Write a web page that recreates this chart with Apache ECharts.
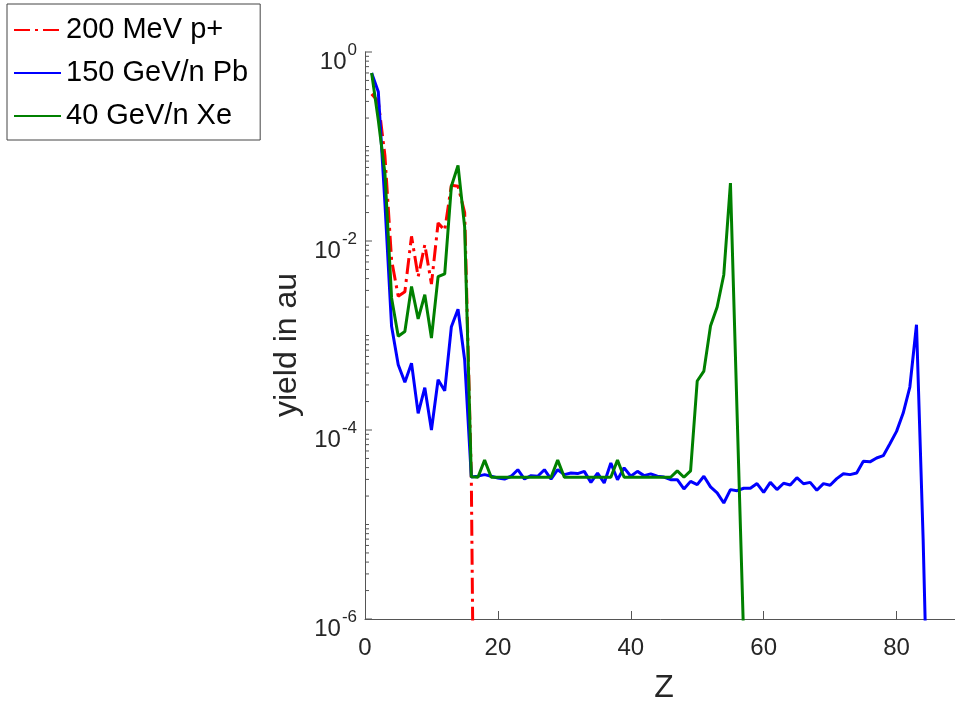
<!DOCTYPE html>
<html>
<head>
<meta charset="utf-8">
<script src="https://cdn.jsdelivr.net/npm/echarts@6/dist/echarts.min.js"></script>
<style>
html,body{margin:0;padding:0;background:#fff;}
#chart{width:955px;height:703px;}
</style>
</head>
<body>
<div id="chart"></div>
<script>
// ---- data ----
const seriesNames = ['200 MeV p+', '150 GeV/n Pb', '40 GeV/n Xe'];

const zProton = [1,2,3,4,5,6,7,8,9,10,11,12,13,14,15,16,17];
const yieldProton = [0.36,0.30,0.08,0.0063,0.0026,0.0029,0.0112,0.0042,0.0091,0.0035,
  0.0155,0.013,0.039,0.038,0.020,3.2e-5,1e-12];

const zLead = [1,2,3,4,5,6,7,8,9,10,11,12,13,14,15,16,17,18,19,20,
  21,22,23,24,25,26,27,28,29,30,31,32,33,34,35,36,37,38,39,40,
  41,42,43,44,45,46,47,48,49,50,51,52,53,54,55,56,57,58,59,60,
  61,62,63,64,65,66,67,68,69,70,71,72,73,74,75,76,77,78,79,80,
  81,82,83,84,85];
const yieldLead = [0.6,0.38,0.025,0.00125,0.00049,0.00032,0.00051,0.00015,0.00028,0.0001,
  0.00034,0.00026,0.00124,0.0019,0.00055,3.18e-5,3.25e-5,3.37e-5,3.24e-5,3.11e-5,
  3.03e-5,3.24e-5,3.8e-5,3.03e-5,3.29e-5,3.24e-5,3.8e-5,3.03e-5,3.8e-5,3.37e-5,
  3.5e-5,3.46e-5,3.65e-5,2.79e-5,3.5e-5,2.75e-5,4.48e-5,2.98e-5,3.98e-5,3.24e-5,
  3.65e-5,3.29e-5,3.43e-5,3.24e-5,3.18e-5,2.98e-5,2.98e-5,2.38e-5,2.86e-5,2.64e-5,
  3.24e-5,2.5e-5,2.16e-5,1.69e-5,2.34e-5,2.28e-5,2.42e-5,2.42e-5,2.71e-5,2.19e-5,
  2.79e-5,2.34e-5,2.73e-5,2.62e-5,3.13e-5,2.7e-5,2.79e-5,2.3e-5,2.71e-5,2.6e-5,
  3.06e-5,3.45e-5,3.37e-5,3.5e-5,4.66e-5,4.6e-5,5.06e-5,5.35e-5,7.16e-5,9.67e-5,
  1.51e-4,2.85e-4,1.3e-3,7e-6,1e-8];

const zXenon = [1,2,3,4,5,6,7,8,9,10,11,12,13,14,15,16,17,18,19,20,
  21,22,23,24,25,26,27,28,29,30,31,32,33,34,35,36,37,38,39,40,
  41,42,43,44,45,46,47,48,49,50,51,52,53,54,55,56,57];
const yieldXenon = [0.6,0.19,0.052,0.0025,0.00098,0.0011,0.0033,0.0015,0.0027,0.00094,
  0.0042,0.0045,0.038,0.063,0.014,3.2e-5,3.16e-5,4.8e-5,3.16e-5,3.16e-5,
  3.16e-5,3.16e-5,3.16e-5,3.16e-5,3.16e-5,3.16e-5,3.16e-5,3.16e-5,4.8e-5,3.16e-5,
  3.16e-5,3.16e-5,3.16e-5,3.16e-5,3.16e-5,3.16e-5,3.16e-5,4.8e-5,3.16e-5,3.16e-5,
  3.16e-5,3.16e-5,3.16e-5,3.16e-5,3.16e-5,3.16e-5,3.7e-5,3.16e-5,3.7e-5,3.3e-4,
  4.2e-4,1.26e-3,2.0e-3,4.4e-3,0.041,1.5e-4,6e-7];

// axis tick decoration values
const xTickStep = 20;
const yDecades = [-6,-5,-4,-3,-2,-1];
const yMinorMultipliers = [2,3,4,5,6,7,8,9];

// ---- build ----
function pairs(xs, ys){ return xs.map((x,i)=>[x, ys[i]]); }

const yTicks = [];
yDecades.forEach(e => {
  yTicks.push([0, Math.pow(10,e), (e % 2 === 0) ? 1 : 0]);
  yMinorMultipliers.forEach(k => yTicks.push([0, k*Math.pow(10,e), 0]));
});
yTicks.push([0, 1, 1]);

const FONT = '"Liberation Sans", Arial, Helvetica, sans-serif';
const AXIS_COLOR = '#555';
const TEXT_COLOR = '#262626';

const chart = echarts.init(document.getElementById('chart'), null, {renderer:'canvas'});
chart.setOption({
  animation: false,
  backgroundColor: '#fff',
  textStyle: {fontFamily: FONT},
  grid: {left: 365, top: 52, right: -8, bottom: 84, containLabel: false, outerBoundsMode: 'none'},
  legend: {
    data: seriesNames,
    orient: 'vertical',
    left: 7, top: 4,
    padding: [11, 12, 9, 6],
    itemWidth: 47, itemHeight: 14, itemGap: 13,
    backgroundColor: '#fff',
    borderColor: '#444', borderWidth: 1, borderRadius: 0,
    itemStyle: {opacity: 0},
    textStyle: {fontSize: 29, color: '#000', fontFamily: FONT, lineHeight: 30}
  },
  xAxis: {
    type: 'value', min: 0, max: 90, interval: xTickStep,
    name: 'Z', nameLocation: 'middle', nameGap: 53,
    nameTextStyle: {fontSize: 32, color: TEXT_COLOR, fontFamily: FONT},
    axisLine: {show: true, lineStyle: {color: AXIS_COLOR, width: 1}},
    axisTick: {show: true, inside: true, length: 8, lineStyle: {color: AXIS_COLOR}},
    axisLabel: {fontSize: 24, color: TEXT_COLOR, margin: 17, showMaxLabel: false, fontFamily: FONT},
    splitLine: {show: false}
  },
  yAxis: {
    type: 'log', logBase: 10, min: 1e-6, max: 1, splitNumber: 6,
    name: 'yield in au', nameLocation: 'middle', nameGap: 58,
    nameTextStyle: {fontSize: 32, color: TEXT_COLOR, fontFamily: FONT, padding: [0, 19, 0, 0]},
    axisLine: {show: true, lineStyle: {color: AXIS_COLOR, width: 1}},
    axisTick: {show: false},
    splitLine: {show: false},
    axisLabel: {
      margin: 8, color: TEXT_COLOR, fontFamily: FONT, padding: [12, 0, 0, 0],
      formatter: function(v){
        const e = Math.round(Math.log10(v));
        return (e % 2 === 0) ? '{b|10}{e|' + e + '}' : '';
      },
      rich: {
        b: {fontSize: 24, color: TEXT_COLOR, fontFamily: FONT, verticalAlign: 'bottom'},
        e: {fontSize: 17, color: TEXT_COLOR, fontFamily: FONT, verticalAlign: 'bottom', padding: [0, 0, 16, 1]}
      }
    }
  },
  series: [
    {
      name: seriesNames[0], type: 'line', data: pairs(zProton, yieldProton),
      showSymbol: false, symbol: 'none', clip: true,
      lineStyle: {color: '#ff0000', width: 3, type: [16, 5, 3, 5]},
      itemStyle: {color: '#ff0000'}, z: 2
    },
    {
      name: seriesNames[1], type: 'line', data: pairs(zLead, yieldLead),
      showSymbol: false, symbol: 'none', clip: true,
      lineStyle: {color: '#0000ff', width: 3},
      itemStyle: {color: '#0000ff'}, z: 3
    },
    {
      name: seriesNames[2], type: 'line', data: pairs(zXenon, yieldXenon),
      showSymbol: false, symbol: 'none', clip: true,
      lineStyle: {color: '#008000', width: 3},
      itemStyle: {color: '#008000'}, z: 4
    },
    {
      name: 'yticks', type: 'custom', data: yTicks, silent: true, z: 5,
      encode: {x: 0, y: 1},
      renderItem: function(params, api){
        const p = api.coord([api.value(0), api.value(1)]);
        const len = api.value(2) ? 7 : 4;
        return {type: 'line', shape: {x1: p[0], y1: p[1], x2: p[0] + len, y2: p[1]},
          style: {stroke: AXIS_COLOR, lineWidth: 1}};
      }
    }
  ]
});
</script>
</body>
</html>
